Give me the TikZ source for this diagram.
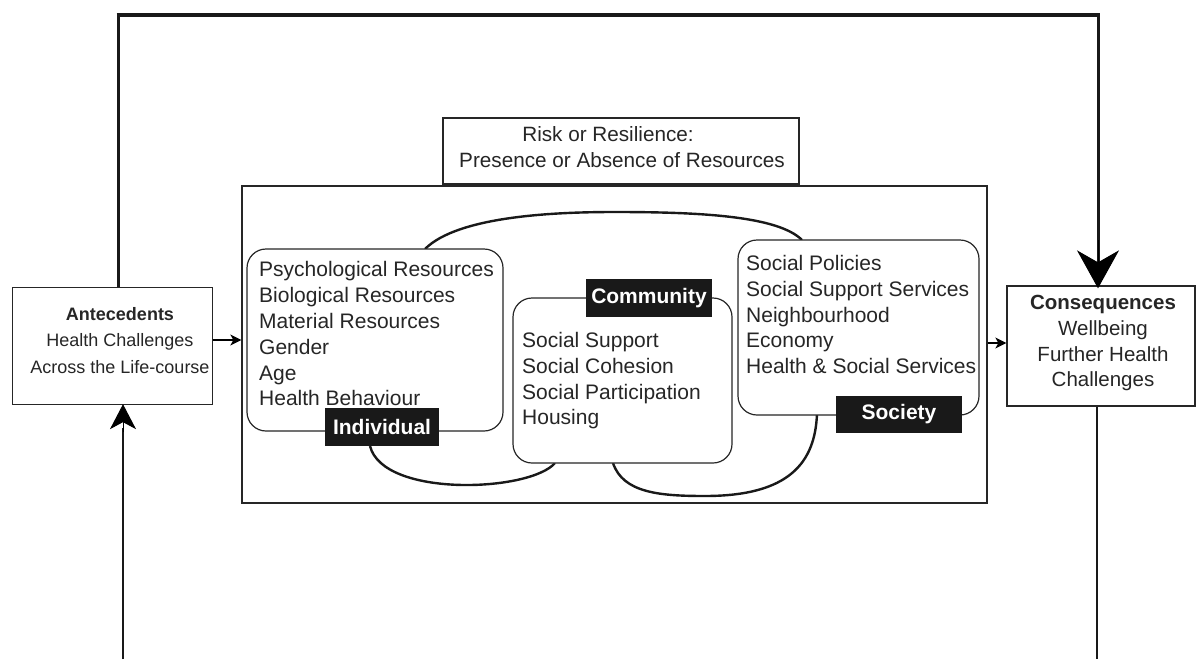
\documentclass[tikz,border=0pt]{standalone}
\usepackage{fontspec}
\setmainfont{Liberation Sans}
\usetikzlibrary{arrows.meta}
\begin{document}
\begin{tikzpicture}[x=1pt,y=-1pt,
  plainbox/.style={draw=black!85, line width=1.3pt, inner sep=0, fill=none},
  roundbox/.style={draw=black!85, line width=1.2pt, rounded corners=19pt, inner sep=0},
  tagbox/.style={fill=black!90, text=white, inner sep=0, font=\fontsize{21}{25}\selectfont\bfseries},
  listtxt/.style={anchor=north west, align=left, inner sep=0, font=\fontsize{21}{25.8}\selectfont, text=black!85},
  ctrtxt/.style={align=center, inner sep=0, text=black!85},
  blobline/.style={line width=2.4pt, black!90},
  loopline/.style={line width=3pt, black!90},
  smallarrow/.style={line width=1.3pt, -{Stealth[length=11pt,width=11pt,inset=3pt]}}
]
\useasboundingbox (0,0) rectangle (1200,659);

% outer boxes
\node[plainbox, minimum width=200pt, minimum height=117pt] (ante) at (112.5,346) {};
\node[plainbox, minimum width=188pt, minimum height=120pt] (cons) at (1101,346) {};
\node[plainbox, minimum width=745pt, minimum height=317pt] (big) at (614.5,344.5) {};
\node[plainbox, minimum width=356pt, minimum height=66pt, fill=white] (title) at (621,151) {};

% title text
\node[ctrtxt, anchor=base, font=\fontsize{20.7}{25}\selectfont] (title1) at (608,141) {Risk or Resilience:};
\node[ctrtxt, anchor=base, font=\fontsize{20.7}{25}\selectfont] (title2) at (622,167) {Presence or Absence of Resources};

% antecedents text
\node[ctrtxt, anchor=north, font=\fontsize{18}{26.5}\selectfont] (antetxt) at (120,307)
  {\textbf{Antecedents}\\Health Challenges\\Across the Life-course};
% consequences text
\node[ctrtxt, anchor=north, font=\fontsize{20.5}{25.8}\selectfont] (constxt) at (1103,295)
  {\textbf{Consequences}\\Wellbeing\\Further Health\\Challenges};

% blob curves
\coordinate (t1) at (425,249);
\coordinate (t2) at (615,212);
\coordinate (t3) at (802,240);
\coordinate (b1) at (370,446);
\coordinate (b2) at (555,463);
\coordinate (b3) at (613,463);
\coordinate (b4) at (705,496);
\coordinate (b5) at (817,414);
\draw[blobline] (t1) .. controls (458,216) and (555,212) .. (t2) .. controls (700,212) and (778,216) .. (t3);
\draw[blobline] (b1) .. controls (383,498) and (530,492) .. (b2);
\draw[blobline] (b3) .. controls (623,493) and (660,496) .. (b4) .. controls (790,496) and (815,462) .. (b5);

% inner rounded boxes
\node[roundbox, fill=white, minimum width=256pt, minimum height=182pt] (indiv) at (375,340) {};
\node[roundbox, fill=white, minimum width=219pt, minimum height=165pt] (comm) at (622.5,380.5) {};
\node[roundbox, fill=white, minimum width=241pt, minimum height=175pt] (soc) at (858.5,327.5) {};

% lists
\node[listtxt] (indivtxt) at (259,261.5) {Psychological Resources\\Biological Resources\\Material Resources\\Gender\\Age\\Health Behaviour};
\node[listtxt] (commtxt) at (522,332) {Social Support\\Social Cohesion\\Social Participation\\Housing};
\node[listtxt] (soctxt) at (746,255) {Social Policies\\Social Support Services\\Neighbourhood\\Economy\\Health \& Social Services};

% labels
\node[tagbox, minimum width=114pt, minimum height=38pt] (indivtag) at (382,427) {Individual};
\node[tagbox, minimum width=126pt, minimum height=38pt] (commtag) at (649,298) {Community};
\node[tagbox, minimum width=126pt, minimum height=37pt] (soctag) at (899,414.5) {Society};

% small arrows
\draw[smallarrow] (ante.east |- 0,340) -- (big.west |- 0,340);
\draw[smallarrow] (big.east |- 0,343) -- (cons.west |- 0,343);

% feedback loop
\coordinate (lt) at (118,15);
\coordinate (rt) at (1098,15);
\draw[loopline] (ante.north -| lt) -- (lt);
\draw[loopline] ([yshift=-1pt]cons.north -| rt) -- (rt);
\draw[line width=4pt, black!90] ([xshift=-1.5pt]lt) -- ([xshift=1.5pt]rt);
\draw[line width=1pt, -{Stealth[length=38pt,width=42pt,inset=12pt]}] (1098,240) -- ([yshift=-3pt]cons.north -| rt);
\coordinate (lb) at (123,659);
\coordinate (rb) at (1097,659);
\draw[line width=2.5pt, black!90] (cons.south -| rb) -- (rb);
\draw[line width=2.5pt, black!90] (lb) -- (123,428);
\draw[line width=1pt, -{Stealth[length=25pt,width=26pt,inset=7pt]}] (123,432) -- ([yshift=1pt]ante.south -| lb);
\end{tikzpicture}
\end{document}
